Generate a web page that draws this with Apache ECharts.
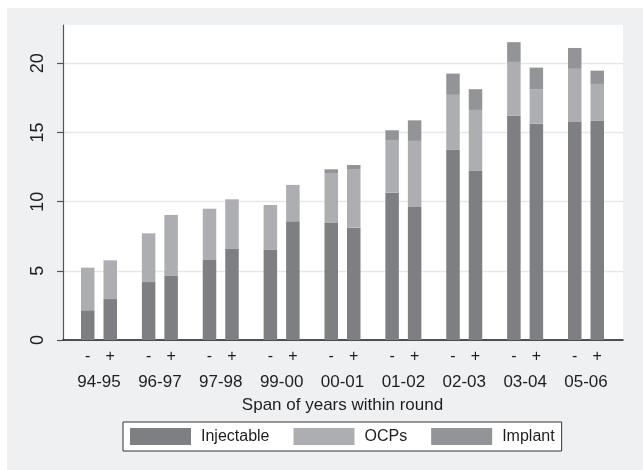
<!DOCTYPE html>
<html>
<head>
<meta charset="utf-8">
<script src="https://cdn.jsdelivr.net/npm/echarts@6/dist/echarts.min.js"></script>
<style>html,body{margin:0;padding:0;background:#fff}#c{width:643px;height:470px}</style>
</head>
<body>
<div id="c"></div>
<script>
const categories = ['94-95','96-97','97-98','99-00','00-01','01-02','02-03','03-04','05-06'];
const injMinus = [2.15, 4.19, 5.78, 6.51, 8.46, 10.65, 13.74, 16.2, 15.76];
const ocpMinus = [3.08, 3.52, 3.71, 3.25, 3.61, 3.81, 3.98, 3.9, 3.84];
const impMinus = [0, 0, 0, 0, 0.27, 0.70, 1.54, 1.43, 1.51];
const injPlus = [2.96, 4.63, 6.58, 8.58, 8.12, 9.62, 12.22, 15.64, 15.84];
const ocpPlus = [2.8, 4.41, 3.59, 2.63, 4.24, 4.77, 4.41, 2.49, 2.67];
const impPlus = [0, 0, 0, 0, 0.29, 1.49, 1.50, 1.56, 0.96];
const yTicks = [0, 5, 10, 15, 20];

const FONT = "'Liberation Sans', Arial, sans-serif";
const TXT = '#1e1e1e';
const C_INJ = '#7e7f83', C_OCP = '#adaeb2', C_IMP = '#939498';
const YMAX = 22.77;

const chart = echarts.init(document.getElementById('c'), null, {renderer: 'canvas'});

function barSeries(name, data, stack, color, sign) {
  const s = {
    name: name, type: 'bar', stack: stack, data: data,
    xAxisIndex: 1, yAxisIndex: 1,
    barWidth: 13.5, barGap: '66.7%',
    itemStyle: {color: color},
    emphasis: {disabled: true},
    animation: false
  };
  if (sign) {
    s.label = {show: true, position: 'bottom', distance: 9, formatter: sign,
      fontSize: 16, color: TXT, fontFamily: FONT};
  }
  return s;
}

chart.setOption({
  backgroundColor: '#eff0f2',
  animation: false,
  textStyle: {fontFamily: FONT},
  graphic: [
    {type: 'rect', left: 0, top: 0, shape: {width: 643, height: 8}, style: {fill: '#fff'}, silent: true},
    {type: 'rect', left: 0, top: 0, shape: {width: 7, height: 470}, style: {fill: '#fff'}, silent: true}
  ],
  grid: [
    {left: 63, right: 20, top: 25, bottom: 130, show: true, backgroundColor: '#fff', borderWidth: 0},
    {left: 68.56, right: 26.56, top: 25, bottom: 130}
  ],
  xAxis: [
    {gridIndex: 0, type: 'value', min: 0, max: 1,
      axisLine: {show: true, lineStyle: {color: '#1a1a1a', width: 1.5}},
      axisTick: {show: false}, axisLabel: {show: false}, splitLine: {show: false}},
    {gridIndex: 1, type: 'category', data: categories,
      axisLine: {show: false}, axisTick: {show: false},
      axisLabel: {fontSize: 17, color: TXT, margin: 34, fontFamily: FONT},
      name: 'Span of years within round', nameLocation: 'middle', nameGap: 57,
      nameTextStyle: {fontSize: 17, color: TXT, fontFamily: FONT}}
  ],
  yAxis: [
    {gridIndex: 0, type: 'value', min: 0, max: YMAX, interval: 5,
      axisLine: {show: true, lineStyle: {color: '#555', width: 1.2}},
      axisTick: {show: true, length: 6, lineStyle: {color: '#555', width: 1.2},
        customValues: yTicks},
      axisLabel: {rotate: 90, fontSize: 18, color: TXT, margin: 16, fontFamily: FONT,
        customValues: yTicks},
      splitLine: {show: true, lineStyle: {color: '#e7e8eb', width: 1.3}}},
    {gridIndex: 1, type: 'value', min: 0, max: YMAX, show: false}
  ],
  legend: {
    data: ['Injectable', 'OCPs', 'Implant'],
    left: 123, top: 422,
    orient: 'horizontal',
    itemWidth: 61, itemHeight: 17, itemGap: 24,
    padding: [6, 7, 6, 7],
    backgroundColor: '#fff', borderColor: '#333', borderWidth: 1,
    icon: 'rect',
    selectedMode: false,
    textStyle: {fontSize: 16, color: TXT, fontFamily: FONT, padding: [0, 0, 0, 5]}
  },
  series: [
    barSeries('Injectable', injMinus, 'minus', C_INJ, '-'),
    barSeries('OCPs', ocpMinus, 'minus', C_OCP),
    barSeries('Implant', impMinus, 'minus', C_IMP),
    barSeries('Injectable', injPlus, 'plus', C_INJ, '+'),
    barSeries('OCPs', ocpPlus, 'plus', C_OCP),
    barSeries('Implant', impPlus, 'plus', C_IMP)
  ]
});
</script>
</body>
</html>
